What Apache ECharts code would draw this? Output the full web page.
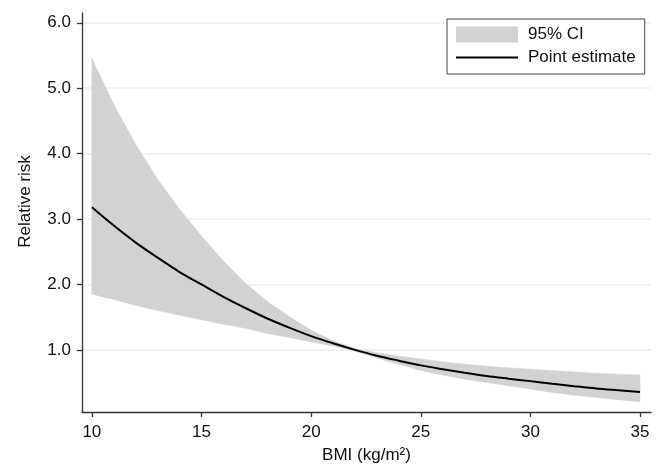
<!DOCTYPE html>
<html>
<head>
<meta charset="utf-8">
<script src="https://cdn.jsdelivr.net/npm/echarts@6/dist/echarts.min.js"></script>
<style>html,body{margin:0;padding:0;background:#fff}#c{width:659px;height:466px}</style>
</head>
<body>
<div id="c"></div>
<script>
const bmi = [10,11,12,13,14,15,16,17,18,19,20,21,22,23,24,25,26,27,28,29,30,31,32,33,34,35];
const pointEstimate = [3.18,2.90,2.64,2.41,2.19,2.00,1.81,1.64,1.48,1.34,1.21,1.10,1.00,0.91,0.835,0.763,0.705,0.65,0.60,0.56,0.522,0.482,0.445,0.41,0.383,0.357];
const ciUpper = [5.46,4.75,4.14,3.61,3.15,2.74,2.36,2.02,1.74,1.51,1.30,1.14,1.02,0.956,0.905,0.861,0.818,0.78,0.75,0.725,0.705,0.683,0.662,0.641,0.628,0.617];
const ciLower = [1.85,1.77,1.68,1.60,1.53,1.46,1.39,1.33,1.25,1.19,1.12,1.06,0.98,0.874,0.775,0.685,0.615,0.55,0.50,0.45,0.40,0.35,0.305,0.27,0.238,0.207];
const xTicks = [10,15,20,25,30,35];
const yTicks = [1,2,3,4,5,6];

const FONT = 'Liberation Sans, Arial, sans-serif';
const BAND = '#d2d2d2';
const chart = echarts.init(document.getElementById('c'), null, {renderer:'canvas'});
chart.setOption({
  animation: false,
  backgroundColor: '#fff',
  grid: {left: 82, right: 8, top: 13, bottom: 54, containLabel: false, outerBoundsMode: 'none'},
  legend: {
    left: 447, top: 19,
    orient: 'vertical',
    padding: [7, 9, 8, 8],
    borderColor: '#444', borderWidth: 1,
    backgroundColor: '#fff',
    itemWidth: 62, itemHeight: 16, itemGap: 6,
    textStyle: {fontFamily: FONT, fontSize: 17, color: '#111', padding: [0,0,0,5]},
    data: [
      {name: '95% CI', icon: 'rect', itemStyle: {color: BAND}},
      {name: 'Point estimate', itemStyle: {opacity: 0}, lineStyle: {color: '#000', width: 2}}
    ]
  },
  xAxis: {
    type: 'value', min: 9.55, max: 35.5,
    name: 'BMI (kg/m²)', nameLocation: 'middle', nameGap: 35,
    nameTextStyle: {fontFamily: FONT, fontSize: 17, color: '#111'},
    axisLine: {lineStyle: {color: '#333', width: 1.3}},
    axisTick: {show: true, length: 5, lineStyle: {color: '#333', width: 1.3}, customValues: xTicks},
    axisLabel: {fontFamily: FONT, fontSize: 17, color: '#111', margin: 12, customValues: xTicks},
    splitLine: {show: false}
  },
  yAxis: {
    type: 'value', min: 0.05, max: 6.15,
    name: 'Relative risk', nameLocation: 'middle', nameGap: 48, nameRotate: 90,
    nameTextStyle: {fontFamily: FONT, fontSize: 17, color: '#111', padding: [0,0,0,22]},
    axisLine: {show: true, lineStyle: {color: '#333', width: 1.3}},
    axisTick: {show: true, length: 5, lineStyle: {color: '#333', width: 1.3}, customValues: yTicks},
    axisLabel: {fontFamily: FONT, fontSize: 17, color: '#111', margin: 11, customValues: yTicks,
      formatter: v => v.toFixed(1)},
    splitLine: {show: true, lineStyle: {color: '#ececec', width: 1.5}}
  },
  series: [
    {
      name: '95% CI', type: 'custom', color: BAND,
      encode: {x: 0, y: [1, 2]},
      data: bmi.map((x, i) => [x, ciLower[i], ciUpper[i]]),
      renderItem: function (params, api) {
        if (params.dataIndex !== 0) return null;
        const pts = [];
        for (let i = 0; i < bmi.length; i++) pts.push(api.coord([bmi[i], ciUpper[i]]));
        for (let i = bmi.length - 1; i >= 0; i--) pts.push(api.coord([bmi[i], ciLower[i]]));
        return {type: 'polygon', shape: {points: pts}, style: {fill: BAND, stroke: BAND, lineWidth: 0.5}};
      }
    },
    {
      name: 'Point estimate', type: 'line', symbol: 'none', smooth: 0.3,
      color: '#000', lineStyle: {color: '#000', width: 2},
      data: bmi.map((x, i) => [x, pointEstimate[i]])
    }
  ]
});
</script>
</body>
</html>
